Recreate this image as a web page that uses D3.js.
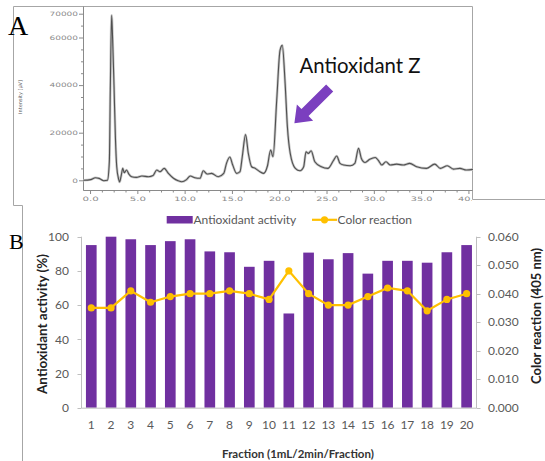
<!DOCTYPE html>
<html><head><meta charset="utf-8">
<script src="https://cdn.jsdelivr.net/npm/d3@7"></script>
<style>html,body{margin:0;padding:0;background:#fff;}svg{display:block;}</style>
</head><body>
<svg id="chart" width="545" height="461"></svg>
<script>
// ---------- Panel A: chromatogram ----------
const chromTime = [-0.77,0.02,0.51,0.91,1.40,1.79,1.99,2.09,2.23,2.33,2.48,2.63,2.77,2.97,3.07,3.22,3.41,3.56,3.81,4.05,4.35,4.84,5.43,6.12,6.61,7.00,7.34,7.79,8.23,8.77,9.26,9.65,10.15,10.54,11.03,11.57,11.92,12.31,12.80,13.49,14.08,14.37,14.72,15.03,15.45,15.80,16.04,16.39,16.68,17.03,17.42,17.91,18.30,18.70,19.04,19.29,19.68,20.03,20.27,20.57,20.81,21.11,21.65,22.14,22.53,22.78,23.02,23.32,23.71,24.40,25.09,25.68,26.02,26.37,26.76,27.45,27.94,28.33,28.63,29.02,29.51,30.10,30.40,30.79,31.23,31.68,32.36,33.05,33.74,34.48,35.51,36.39,36.98,37.72,38.36,39.05,39.73,40.42];
const chromIntensity = [0,300,1100,800,-200,0,8000,38000,69300,60000,40000,18000,5700,500,-700,1500,5000,3200,4300,2600,1500,1250,1800,1500,2000,4300,3600,5000,2900,840,-200,-600,300,1800,1100,840,4000,2650,2900,1500,2900,7100,9800,6400,2900,3600,9900,19200,11300,5700,5000,3600,2900,6000,12700,9900,33600,54600,56700,40700,22500,11300,5000,4000,5700,12000,11300,12400,7800,5700,5000,8300,10200,7100,6400,6100,7100,13400,9200,7500,8800,9600,8500,6400,7800,6400,6800,6400,7100,5700,5000,6800,5000,6100,4700,5000,4300,4600];
const chromYTickLabels = [0,20000,40000,60000,70000];
const chromXTickLabels = [0,5,10,15,20,25,30,35,40];
const annotationText = "Antioxidant Z";
const arrowFrom = [25.28, 38800];   // (min, intensity)
const arrowTo = [21.55, 24000];

// ---------- Panel B: fractions ----------
const fractions = ["1","2","3","4","5","6","7","8","9","10","11","12","13","14","15","16","17","18","19","20"];
const antioxidantActivity = [95.1,100,98.5,95.1,97.4,98.5,91.4,90.9,82.4,85.9,55.1,90.7,86.8,90.4,78.4,85.9,85.9,84.8,90.9,95.1];
const colorReaction = [0.035,0.035,0.041,0.037,0.039,0.040,0.040,0.041,0.040,0.038,0.048,0.040,0.036,0.036,0.039,0.042,0.041,0.034,0.038,0.040];
const leftTicks = [0,20,40,60,80,100];
const rightTicks = [0,0.01,0.02,0.03,0.04,0.05,0.06];

const svg = d3.select("#chart");
const frame = "#a6a6a6";

// frames
svg.append("path").attr("d","M13.5,205.5 L13.5,6.5 L472.5,6.5 L472.5,199.5 L545,199.5")
  .attr("fill","none").attr("stroke",frame).attr("stroke-width",1);
svg.append("path").attr("d","M13.5,205.5 L22.5,205.5 L22.5,461")
  .attr("fill","none").attr("stroke",frame).attr("stroke-width",1);

// ---- Panel A ----
const xA = d3.scaleLinear().domain([-0.765, 40.42]).range([83.3, 472.9]);
const yA = d3.scaleLinear().domain([0, 70000]).range([180.3, 13.7]);
const gA = svg.append("g");
const clipA = svg.append("defs").append("clipPath").attr("id","clipA");
clipA.append("rect").attr("x",14).attr("y",7).attr("width",458).attr("height",198);

// y axis A
gA.append("line").attr("x1",83.5).attr("x2",83.5).attr("y1",6.5).attr("y2",190.5).attr("stroke","#8a8a8a");
const yMinor = d3.range(0, 70001, 5000);
gA.selectAll(".yminA").data(yMinor).join("line")
  .attr("x1",d=>chromYTickLabels.includes(d)?79:81).attr("x2",83.5)
  .attr("y1",d=>yA(d)+0.5).attr("y2",d=>yA(d)+0.5).attr("stroke","#8a8a8a");
gA.selectAll(".ylabA").data(chromYTickLabels).join("text")
  .attr("x",78).attr("y",d=>yA(d)+2.3).attr("text-anchor","end")
  .attr("font-family","DejaVu Sans, sans-serif").attr("font-size",6).attr("fill","#8a8a8a")
  .attr("textLength",d=>String(d).length*5.7).attr("lengthAdjust","spacingAndGlyphs")
  .text(d=>d);
gA.append("text").attr("transform","translate(22,97) rotate(-90)").attr("text-anchor","middle")
  .attr("font-family","DejaVu Sans, sans-serif").attr("font-size",5).attr("fill","#555")
  .text("Intensity [µV]");

// x axis A
gA.append("line").attr("x1",83.3).attr("x2",472.7).attr("y1",190.5).attr("y2",190.5).attr("stroke","#8a8a8a");
const xMinor = d3.range(0, 40.4, 1.25);
gA.selectAll(".xminA").data(xMinor).join("line")
  .attr("x1",d=>xA(d)).attr("x2",d=>xA(d)).attr("y1",190.5).attr("y2",d=>(d%5===0)?194:192.5).attr("stroke","#8a8a8a");
gA.append("g").attr("clip-path","url(#clipA)").selectAll(".xlabA").data(chromXTickLabels).join("text")
  .attr("x",d=>xA(d)).attr("y",200.5).attr("text-anchor","middle")
  .attr("font-family","DejaVu Sans, sans-serif").attr("font-size",6).attr("fill","#8a8a8a")
  .attr("textLength",d=>d.toFixed(1).length*5.4).attr("lengthAdjust","spacingAndGlyphs")
  .text(d=>d.toFixed(1));

// trace
const chromData = chromTime.map((t,i)=>[t, chromIntensity[i]]);
const lineA = d3.line().x(d=>xA(d[0])).y(d=>yA(d[1])).curve(d3.curveMonotoneX);
gA.append("path").datum(chromData).attr("d",lineA).attr("fill","none").attr("stroke","#c8c8c8").attr("stroke-width",2.6);
gA.append("path").datum(chromData).attr("d",lineA).attr("fill","none").attr("stroke","#505050").attr("stroke-width",1.1);

// annotation
gA.append("text").attr("x",299.5).attr("y",73).attr("font-family","Lato, 'Open Sans', sans-serif")
  .attr("font-size",21).attr("fill","#111").attr("textLength",121).attr("lengthAdjust","spacingAndGlyphs")
  .text(annotationText);
(function(){
  const x0 = xA(arrowFrom[0]), y0 = yA(arrowFrom[1]);
  const x1 = xA(arrowTo[0]), y1 = yA(arrowTo[1]);
  const dx = x1-x0, dy = y1-y0, L = Math.hypot(dx,dy);
  const ux = dx/L, uy = dy/L, px = -uy, py = ux;
  const hl = 15, hw = 11.5, sw = 5;
  const bx = x1-ux*hl, by = y1-uy*hl;
  const pts = [
    [x0+px*sw, y0+py*sw],[bx+px*sw, by+py*sw],[bx+px*hw, by+py*hw],[x1,y1],
    [bx-px*hw, by-py*hw],[bx-px*sw, by-py*sw],[x0-px*sw, y0-py*sw]];
  gA.append("polygon").attr("points",pts.map(p=>p.join(",")).join(" ")).attr("fill","#7b3fbf");
})();

// panel labels
svg.append("text").attr("x",8).attr("y",35).attr("font-family","'Liberation Serif', 'DejaVu Serif', serif")
  .attr("font-size",28).attr("fill","#000").text("A");
svg.append("text").attr("x",9).attr("y",248.5).attr("font-family","'Liberation Serif', 'DejaVu Serif', serif")
  .attr("font-size",22).attr("fill","#000").text("B");

// ---- Panel B ----
const font = "Lato, 'Open Sans', sans-serif";
const xB = d3.scaleBand().domain(fractions).range([81.4, 476.5]).paddingInner(0.46).paddingOuter(0.23);
const yL = d3.scaleLinear().domain([0,100]).range([407.7, 236.7]);
const yR = d3.scaleLinear().domain([0,0.06]).range([407.7, 236.7]);
const gB = svg.append("g");

gB.selectAll(".bar").data(antioxidantActivity).join("rect")
  .attr("x",(d,i)=>xB(fractions[i])).attr("width",xB.bandwidth())
  .attr("y",d=>yL(d)).attr("height",d=>yL(0)-yL(d)).attr("fill","#7030a0");

const axisCol = "#bfbfbf", labCol = "#595959";
// axes lines
gB.append("line").attr("x1",81.5).attr("x2",81.5).attr("y1",236.7).attr("y2",408).attr("stroke",axisCol);
gB.append("line").attr("x1",476.5).attr("x2",476.5).attr("y1",236.7).attr("y2",408).attr("stroke",axisCol);
gB.append("line").attr("x1",81.5).attr("x2",476.5).attr("y1",408.2).attr("y2",408.2).attr("stroke",axisCol);
gB.selectAll(".tl").data(leftTicks).join("line")
  .attr("x1",77.5).attr("x2",81.5).attr("y1",d=>Math.round(yL(d))+0.5).attr("y2",d=>Math.round(yL(d))+0.5).attr("stroke",axisCol);
gB.selectAll(".tr").data(rightTicks).join("line")
  .attr("x1",476.5).attr("x2",480.5).attr("y1",d=>Math.round(yR(d))+0.5).attr("y2",d=>Math.round(yR(d))+0.5).attr("stroke",axisCol);
gB.selectAll(".ll").data(leftTicks).join("text")
  .attr("x",69).attr("y",d=>yL(d)+4.2).attr("text-anchor","end")
  .attr("font-family",font).attr("font-size",12).attr("fill",labCol).text(d=>d);
gB.selectAll(".rl").data(rightTicks).join("text")
  .attr("x",488).attr("y",d=>yR(d)+4.2).attr("text-anchor","start")
  .attr("font-family",font).attr("font-size",12).attr("fill",labCol).text(d=>d3.format(".3f")(d));
gB.selectAll(".xl").data(fractions).join("text")
  .attr("x",d=>xB(d)+xB.bandwidth()/2).attr("y",428.5).attr("text-anchor","middle")
  .attr("font-family",font).attr("font-size",12).attr("fill",labCol).text(d=>d);

// line series
const lineB = d3.line().x((d,i)=>xB(fractions[i])+xB.bandwidth()/2).y(d=>yR(d));
gB.append("path").datum(colorReaction).attr("d",lineB).attr("fill","none").attr("stroke","#ffc000").attr("stroke-width",2.2);
gB.selectAll(".pt").data(colorReaction).join("circle")
  .attr("cx",(d,i)=>xB(fractions[i])+xB.bandwidth()/2).attr("cy",d=>yR(d)).attr("r",3.6).attr("fill","#ffc000");

// titles
gB.append("text").attr("transform","translate(47,324) rotate(-90)").attr("text-anchor","middle")
  .attr("font-family",font).attr("font-weight","bold").attr("font-size",13.5).attr("fill","#222")
  .text("Antioxidant activity (%)");
gB.append("text").attr("transform","translate(541,316) rotate(-90)").attr("text-anchor","middle")
  .attr("font-family",font).attr("font-weight","bold").attr("font-size",13).attr("fill","#222")
  .text("Color reaction (405 nm)");
gB.append("text").attr("x",298).attr("y",458).attr("text-anchor","middle")
  .attr("font-family",font).attr("font-weight","bold").attr("font-size",11.5).attr("fill","#333")
  .text("Fraction (1mL/2min/Fraction)");

// legend
gB.append("rect").attr("x",166.7).attr("y",216).attr("width",26).attr("height",7.5).attr("fill","#7030a0");
gB.append("text").attr("x",193.5).attr("y",224).attr("font-family",font).attr("font-size",12).attr("fill",labCol).text("Antioxidant activity");
gB.append("line").attr("x1",312).attr("x2",337).attr("y1",219.8).attr("y2",219.8).attr("stroke","#ffc000").attr("stroke-width",2.2);
gB.append("circle").attr("cx",324.5).attr("cy",219.8).attr("r",3.6).attr("fill","#ffc000");
gB.append("text").attr("x",337.5).attr("y",224).attr("font-family",font).attr("font-size",12).attr("fill",labCol).text("Color reaction");
</script>
</body></html>
